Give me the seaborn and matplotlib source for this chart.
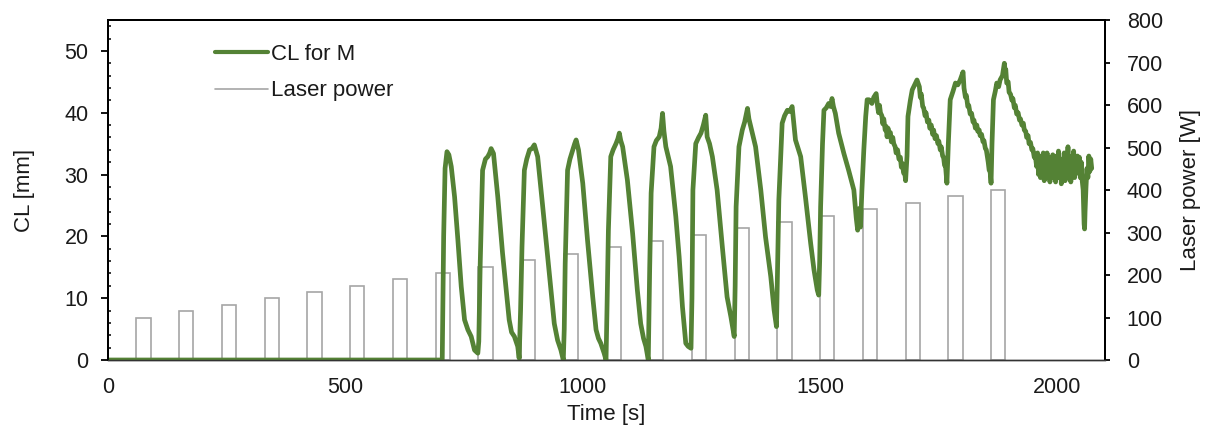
import matplotlib
matplotlib.use("Agg")
import matplotlib.pyplot as plt
from matplotlib.lines import Line2D
import seaborn as sns
import pandas as pd

# ---- data ----
cl_time = [
    0, 704, 707, 710, 714, 718, 723, 730, 737, 744, 751, 758, 765, 772, 779,
    781, 784, 789, 795, 800, 804, 807, 812, 821, 831, 838, 845, 850, 856, 863, 866,
    869, 872, 877, 882, 888, 893, 898, 905, 915, 926, 933, 940, 947, 954, 959,
    961, 963, 968, 973, 979, 983, 986, 991, 1000, 1010, 1021, 1028, 1033, 1038, 1045, 1049,
    1051, 1054, 1059, 1064, 1070, 1074, 1077, 1080, 1084, 1094, 1105, 1115, 1122, 1128, 1133, 1138,
    1141, 1144, 1150, 1155, 1161, 1165, 1168, 1171, 1175, 1185, 1196, 1203, 1210, 1217, 1222, 1228,
    1230, 1232, 1238, 1244, 1249, 1254, 1259, 1262, 1267, 1273, 1283, 1294, 1304, 1312, 1319,
    1321, 1323, 1329, 1336, 1341, 1347, 1350, 1354, 1364, 1375, 1385, 1396, 1403, 1408,
    1410, 1413, 1420, 1425, 1431, 1436, 1441, 1445, 1448, 1459, 1469, 1480, 1487, 1494, 1497,
    1499, 1501, 1505, 1508, 1513, 1518, 1522, 1525, 1528, 1532, 1539, 1550, 1560, 1571, 1576, 1579, 1582, 1585,
    1588, 1592, 1596, 1599, 1603, 1609, 1613, 1618,
    1621, 1623, 1625, 1627, 1630, 1632, 1634, 1637, 1639, 1641, 1643, 1645, 1648, 1650,
    1653, 1655, 1658, 1660, 1663, 1666, 1669, 1671, 1673, 1676, 1678, 1680,
    1683, 1685, 1690, 1694, 1699, 1704,
    1709, 1711, 1713, 1716, 1718, 1721, 1723, 1726, 1729, 1731, 1734, 1737,
    1739, 1742, 1745, 1748, 1750, 1753, 1755, 1758, 1760, 1762, 1764, 1767,
    1770, 1774, 1780, 1785, 1790, 1795,
    1801, 1803, 1806, 1808, 1811, 1813, 1816, 1819, 1822, 1824, 1827, 1830, 1832,
    1835, 1837, 1840, 1843, 1845, 1848, 1850, 1852, 1854, 1856, 1858, 1860,
    1862, 1865, 1869, 1872, 1876, 1879, 1884,
    1888, 1890, 1891, 1893, 1896, 1898, 1901, 1904, 1906, 1909, 1911, 1914, 1917, 1920,
    1922, 1925, 1928, 1930, 1933, 1935, 1938, 1940, 1943, 1946, 1948, 1951, 1953, 1956,
    1958, 1960, 1962, 1964, 1966, 1968, 1970, 1972, 1974, 1976, 1978, 1980, 1982, 1984, 1986,
    1988, 1990, 1992, 1994, 1996, 1998, 2000, 2002, 2004, 2006, 2008, 2010, 2012, 2014, 2016,
    2018, 2020, 2022, 2024, 2026, 2028, 2030, 2032, 2034, 2036, 2038, 2040, 2042, 2044, 2046,
    2048, 2050, 2052, 2054, 2056, 2057, 2058, 2060, 2062, 2064, 2066, 2068, 2070, 2072,
]
cl_value = [
    0, 0, 20, 31, 33.7, 33.2, 31.3, 26.4, 19.4, 11.9, 6.5, 4.9, 3.8, 1.6, 1.1,
    3, 15.6, 30.7, 32.5, 32.9, 33.5, 34.2, 33.4, 26.4, 17.3, 11.9, 6.5, 4.5, 3.8, 2.2, 0.3,
    8, 18.3, 30.7, 32.5, 34, 34.2, 34.8, 32.9, 25.3, 16.7, 11.3, 5.9, 3.2, 1.6, 0,
    5, 15.6, 30.7, 32.5, 34, 35, 35.6, 34, 28.6, 19.4, 10.2, 4.9, 3.5, 2.7, 1.1, 0,
    8, 21, 32.9, 34, 35, 35.8, 36.7, 35.5, 34.5, 29.1, 20.5, 11.3, 5.9, 3.5, 2.2, 0,
    15, 27, 34.5, 35.5, 36.1, 37.5, 39.9, 37, 34.5, 31.3, 23.2, 16.7, 8.6, 2.7, 2.2, 1.9,
    10, 27.5, 35, 36, 36.7, 38, 39.6, 36.1, 35, 32.9, 27.5, 18.3, 10.2, 7, 3.8,
    12, 24.8, 34.5, 37.2, 38.5, 40.7, 39, 37.7, 34.5, 27.5, 19.9, 13.5, 8.1, 5.4,
    14, 25.9, 38.3, 39.5, 40.4, 40.2, 41, 38, 35.6, 32.9, 26.4, 18.9, 14.6, 11.3, 10.5,
    16, 24.8, 35, 40.4, 40.8, 41.5, 41, 42.3, 41, 39.9, 36.7, 33.4, 30.7, 27.5, 23, 21, 24.5, 21.5,
    27.5, 34, 39.4, 42.1, 42.1, 41.5, 42.5, 43.1,
    41, 40, 41.2, 40, 39.5, 38.2, 39, 37.2, 37.8, 36.1, 37.5, 36.5, 36.8, 35.3,
    36, 35, 34.5, 33.5, 34, 32.5, 32.8, 31.2, 31.8, 30.2, 30.5, 29,
    33, 39.4, 42, 43.7, 44.5, 45.3,
    44.2, 42.5, 43, 41, 40.8, 39.5, 40, 38.5, 38.8, 37.5, 38, 36.5,
    37.2, 35.8, 36.3, 35, 35.4, 34, 34.5, 33, 32.8, 31.5, 31.5, 28.6,
    35, 42.1, 43.5, 44.8, 44.5, 45.3,
    46.6, 44, 42.5, 42.8, 41, 41.2, 39.8, 39.9, 38.5, 38.8, 37.5, 38, 37,
    37.2, 36.3, 36.5, 35.3, 35.5, 34.2, 34, 33, 32, 30.7, 30.5, 28.6,
    35, 42.1, 43.5, 44.8, 44.2, 45.3, 46,
    48, 46.5, 47, 44.8, 45, 43.3, 43, 42, 42.3, 40.8, 41.2, 39.8, 40, 38.8,
    39, 38, 38.3, 37.2, 37, 36, 36.3, 35, 35.2, 34, 34.2, 32.8, 33.2, 31.3,
    33.5, 30, 33, 29.5, 32.5, 30.5, 33.5, 29, 32, 30, 33.5, 29.5, 32.8, 28.8, 32,
    29.5, 33.2, 30, 32.5, 28.8, 33, 30.2, 33.8, 29.5, 32, 28.5, 32.5, 30, 33.5, 29,
    32.8, 30.5, 34.5, 29.5, 32.5, 28.8, 33, 30, 33.8, 29.5, 32.5, 30.2, 33, 30.5, 32.8,
    29.5, 32, 29, 27.5, 22, 21.2, 24, 28, 31, 29.5, 33, 30.5, 32.5, 31,
]

bar_time = [75, 165, 255, 345, 435, 525, 615, 705, 795, 885, 975, 1065, 1155, 1245, 1335, 1425, 1515, 1605,
            1695, 1785, 1875]
laser_power = [100, 115, 130, 145, 160, 175, 190, 205, 220, 235, 250, 265, 280, 295, 310, 325, 340, 355,
               370, 385, 400]

x_ticks = [0, 500, 1000, 1500, 2000]
cl_ticks = [0, 10, 20, 30, 40, 50]
power_ticks = [0, 100, 200, 300, 400, 500, 600, 700, 800]

line_color = "#548235"
bar_edge = "#a6a6a6"

sns.set_theme(style="white")
plt.rcParams["font.family"] = ["Liberation Sans", "DejaVu Sans"]

fig = plt.figure(figsize=(12.12, 4.32), dpi=100)
ax = fig.add_axes([108 / 1212, 72 / 432, 997 / 1212, 340 / 432])
ax2 = ax.twinx()

n = min(len(cl_time), len(cl_value))
df_cl = pd.DataFrame({"time": cl_time[:n], "cl": cl_value[:n]})
df_bar = pd.DataFrame({"time": bar_time, "power": laser_power})

sns.barplot(data=df_bar, x="time", y="power", ax=ax2, native_scale=True, width=30 / 90,
            color="white", edgecolor=bar_edge, linewidth=1.2, saturation=1, errorbar=None)
sns.lineplot(data=df_cl, x="time", y="cl", ax=ax, color=line_color, linewidth=3.4, sort=False,
             estimator=None)

ax.set_zorder(ax2.get_zorder() + 1)
ax.patch.set_visible(False)

ax.set_xlim(0, 2100)
ax2.set_xlim(0, 2100)
ax.set_ylim(0, 55)
ax2.set_ylim(0, 800)
ax.set_xticks(x_ticks)
ax.set_xticklabels([str(v) for v in x_ticks])
ax.set_yticks(cl_ticks)
ax.set_yticks([v for v in range(0, 56, 2) if v % 10 != 0], minor=True)
ax2.set_yticks(power_ticks)

ax.tick_params(axis="x", length=0, pad=12, labelsize=15.5, colors="#1a1a1a")
ax.tick_params(axis="y", which="major", direction="out", length=5, width=1.3, pad=9,
               labelsize=15.5, left=True, colors="black", labelcolor="#1a1a1a")
ax.tick_params(axis="y", which="minor", direction="in", length=2.5, width=1.1, left=True, color="black")
ax2.tick_params(axis="y", direction="out", length=3.6, width=1.3, pad=12, labelsize=15.5,
                right=True, colors="black", labelcolor="#1a1a1a")
ax2.tick_params(axis="x", bottom=False, labelbottom=False)

for a in (ax, ax2):
    for side in ("left", "right", "top"):
        a.spines[side].set_color("black")
        a.spines[side].set_linewidth(1.4)
    a.spines["bottom"].set_color("#333333")
    a.spines["bottom"].set_linewidth(1.0)
    a.grid(False)

ax.set_xlabel("Time [s]", fontsize=16, color="#1a1a1a")
ax.set_ylabel("CL [mm]", fontsize=16, color="#1a1a1a")
ax2.set_ylabel("Laser power [W]", fontsize=16, color="#1a1a1a")
ax.xaxis.set_label_coords(0.5, -0.128)
ax.yaxis.set_label_coords(-0.073, 0.5)
ax2.yaxis.set_label_coords(1.075, 0.5)

handles = [Line2D([0], [0], color=line_color, lw=3),
           Line2D([0], [0], color=bar_edge, lw=1.2)]
ax.legend(handles, ["CL for M", "Laser power"], loc="upper left", bbox_to_anchor=(0.107, 0.93),
          frameon=False, fontsize=16, handlelength=2.4, handletextpad=0.15, labelspacing=0.7,
          borderaxespad=0, borderpad=0, labelcolor="#1a1a1a")

fig.savefig("out.png", dpi=100)
